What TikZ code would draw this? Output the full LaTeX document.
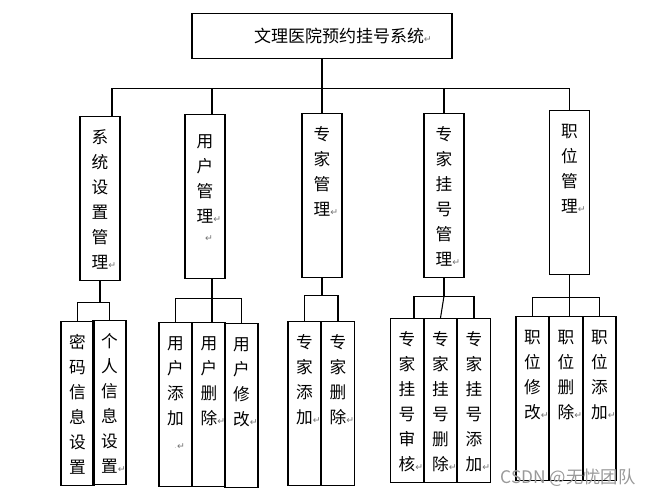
\documentclass[tikz,border=0pt]{standalone}
\usepackage{fontspec}
\newfontfamily\cjk{Noto Sans CJK SC}
\newfontfamily\symfont{DejaVu Sans}
\newcommand\retmark{\leavevmode\rlap{\symfont\fontsize{7}{7}\selectfont\color{black!55}↵}}

\tikzset{
  link/.style={line width=0.8pt},
  boxbase/.style={draw, line width=0.8pt, inner sep=0pt, anchor=north, align=center,
    font=\cjk\fontsize{12.5}{18.75}\selectfont, text height=20pt, text depth=103pt},
  modbox/.style={boxbase, text width=30pt},
  subbox/.style={boxbase, text width=24.75pt},
  titlebox/.style={draw, line width=0.8pt, inner sep=0pt, anchor=north,
    minimum width=195pt, minimum height=33.75pt, font=\cjk\fontsize{12.75}{15}\selectfont}
}

\begin{document}
\begin{tikzpicture}[x=0.75pt, y=-0.75pt]
 
                \useasboundingbox (0,0) rectangle (651,496);
 
                % Title
                \node[titlebox] (title) at (322,13) {\hspace*{2em}文理医院预约挂号系统\retmark};
 
                % Modules
                \node[modbox] (sysmgr) at (100,116) {系\\统\\设\\置\\管\\理\retmark};
                \node[modbox, text height=25pt, text depth=98pt] (usermgr) at (205,114) {用\\户\\管\\理\retmark\\[-5pt]\retmark};
                \node[modbox] (expmgr) at (322,113) {专\\家\\管\\理\retmark};
                \node[modbox] (regmgr) at (444,113) {专\\家\\挂\\号\\管\\理\retmark};
                \node[modbox] (postmgr) at (569.5,110) {职\\位\\管\\理\retmark};
 
                % Functions
                \node[subbox] (sys1) at (77.5,321) {密\\码\\信\\息\\设\\置};
                \node[subbox] (sys2) at (109.5,320) {个\\人\\信\\息\\设\\置\retmark};
 
                \node[subbox] (user1) at (175.5,322) {用\\户\\添\\加\\{\color{black!55}\tiny$\cdot$}\retmark};
                \node[subbox] (user2) at (209,322) {用\\户\\删\\除\retmark};
                \node[subbox] (user3) at (241.5,323) {用\\户\\修\\改\retmark};
 
                \node[subbox] (exp1) at (304.5,321) {专\\家\\添\\加\retmark};
                \node[subbox] (exp2) at (338,321) {专\\家\\删\\除\retmark};
 
                \node[subbox] (reg1) at (407,318) {专\\家\\挂\\号\\审\\核\retmark};
                \node[subbox] (reg2) at (440.5,318) {专\\家\\挂\\号\\删\\除\retmark};
                \node[subbox] (reg3) at (474,318) {专\\家\\挂\\号\\添\\加\retmark};
 
                \node[subbox] (post1) at (532.5,316) {职\\位\\修\\改\retmark};
                \node[subbox] (post2) at (566,316) {职\\位\\删\\除\retmark};
                \node[subbox] (post3) at (599.5,316) {职\\位\\添\\加\retmark};
 
                % Top level links
                \coordinate (sysdrop) at ([xshift=9pt]sysmgr.north);
                \coordinate (userdrop) at ([xshift=5.25pt]usermgr.north);
                \draw[link] (title.south) -- ++(0,29) coordinate (topbus);
                \draw[link] (sysdrop) |- (topbus) -| (postmgr.north);
                \draw[link] (userdrop) -- (userdrop |- topbus);
                \draw[link] (expmgr.north) -- (expmgr.north |- topbus);
                \draw[link] (regmgr.north) -- (regmgr.north |- topbus);
 
                % Lower links
                \draw[link] (sysmgr.south) -- ++(0,21) coordinate (sysbus);
                \draw[link] (sys1.north) |- (sysbus) -| (sys2.north);
 
                \coordinate (userlow) at ([xshift=5.25pt]usermgr.south);
                \draw[link] (userlow) -- ++(0,19) coordinate (userbus);
                \draw[link] (user1.north) |- (userbus) -| (user3.north);
                \draw[link] (userbus) -- (userbus |- user2.north);
 
                \draw[link] (expmgr.south) -- ++(0,17) coordinate (expbus);
                \draw[link] (exp1.north) |- (expbus) -| (exp2.north);
 
                \coordinate (regdrop) at ([xshift=5.25pt]reg1.north);
                \draw[link] (regmgr.south) -- ++(0,18) coordinate (regbus);
                \draw[link] (regdrop) |- (regbus) -| (reg3.north);
                \draw[link] (regbus) -- (reg2.north);
 
                \draw[link] (postmgr.south) -- ++(0,22) coordinate (postbus);
                \draw[link] (post1.north) |- (postbus) -| (post3.north);
                \draw[link] (postbus) -- (postbus |- post2.north);
 
                % Watermark
                \node[font=\cjk\fontsize{13}{13}\selectfont, text=black!40] (mark) at (568,478) {CSDN @无忧团队};
 
\end{tikzpicture}
\end{document}
